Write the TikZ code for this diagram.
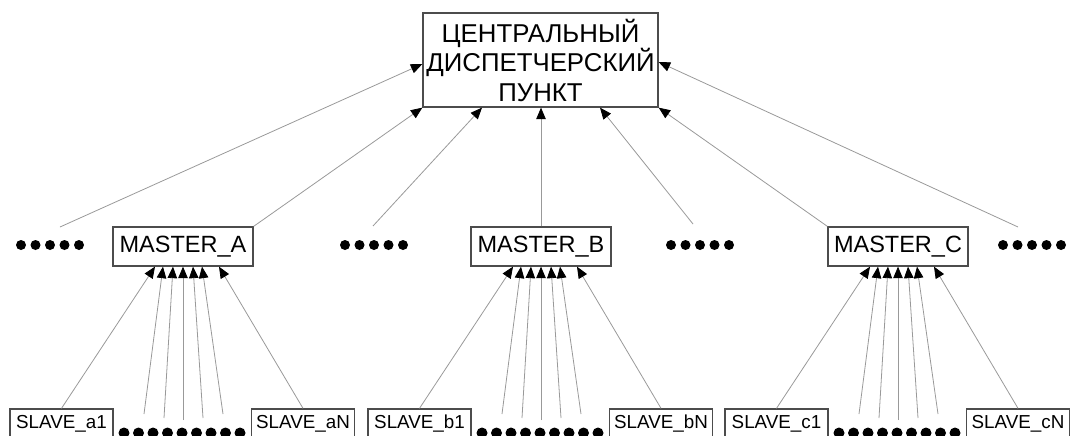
\documentclass[tikz,border=0pt]{standalone}
\usepackage{fontspec}
\setmainfont{Liberation Sans}
\usetikzlibrary{arrows.meta}
\begin{document}
\begin{tikzpicture}[x=1pt,y=-1pt,
  box/.style={draw=black!70, line width=1.3pt, inner sep=0pt, fill=white},
  cbox/.style={box, minimum width=235pt, minimum height=94pt, align=center,
    font=\fontsize{25.8}{29.5}\selectfont},
  mbox/.style={box, minimum width=140pt, minimum height=39pt,
    font=\fontsize{23.5}{26}\selectfont},
  sbox/.style={box, minimum width=103pt, minimum height=29pt,
    font=\fontsize{18.8}{21}\selectfont},
  conn/.style={draw=black!40, line width=0.8pt,
    -{Triangle[length=11.5pt,width=9.5pt,color=black]}},
  dot/.style={fill=black}]
\useasboundingbox (0,0) rectangle (1070,436);

% central dispatch point
\node[cbox] (cdp) at (540.5,60) {ЦЕНТРАЛЬНЫЙ\\ДИСПЕТЧЕРСКИЙ\\ПУНКТ};

% masters and their slaves
\foreach \m/\s/\x in {A/a/183, B/b/541, C/c/898} {
  \node[mbox] (m\m) at (\x,246.5) {MASTER\_\m};
  \node[sbox] (\s1) at (\x-121.5,423.5) {SLAVE\_\s1};
  \node[sbox] (\s N) at (\x+120,423.5) {SLAVE\_\s N};
  \draw[conn] (\s1.north) -- ([xshift=-28pt]m\m.south);
  \draw[conn] (\s N.north) -- ([xshift=36pt]m\m.south);
  \foreach \t/\b/\y [count=\i] in {-20/-39/414, -10/-19/418, 0/0/420, 10/20/418, 19/40/414} {
    \coordinate (f\s\i) at (\x+\b,\y);
    \draw[conn] (f\s\i) -- ([xshift=\t pt]m\m.south);
  }
  \foreach \k in {0,...,8}
    \fill[dot] (\x-59+14.5*\k,433) circle (5.5);
}

% free ends of the links to the dispatch point
\coordinate (u1) at (60,227);
\coordinate (u3) at (373,226);
\coordinate (u5) at (693,224);
\coordinate (u7) at (1018,227);

\draw[conn] (u1) -- ([yshift=-4pt]cdp.west);
\draw[conn] (mA.north east) -- (cdp.south west);
\draw[conn] (u3) -- ([xshift=-58.5pt]cdp.south);
\draw[conn] (mB.north) -- (mB.north |- cdp.south);
\draw[conn] (u5) -- ([xshift=59.5pt]cdp.south);
\draw[conn] (mC.north west) -- (cdp.south east);
\draw[conn] (u7) -- ([yshift=-2pt]cdp.east);

% rows of dots between the masters
\foreach \s in {21,345,671,1003}
  \foreach \k in {0,...,4}
    \fill[dot] (\s+14.5*\k,245) circle (5);
\end{tikzpicture}
\end{document}
